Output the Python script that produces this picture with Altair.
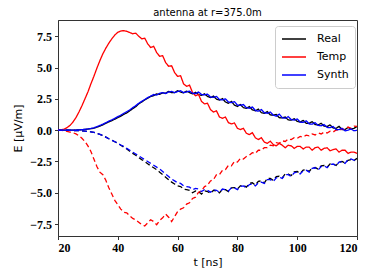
import altair as alt
import pandas as pd

t_ns = list(range(20, 121))

real_pos = [0.0, 0.0, 0.0, 0.0, 0.0, 0.0, 0.01, 0.02, 0.04, 0.06,
            0.09, 0.12, 0.16, 0.24, 0.33, 0.43, 0.55, 0.66, 0.76, 0.88,
            1.0, 1.12, 1.27, 1.38, 1.55, 1.72, 1.88, 2.1, 2.25, 2.42,
            2.55, 2.7, 2.76, 2.9, 2.86, 2.98, 2.95, 3.1, 3.0, 3.0,
            3.15, 3.05, 2.98, 3.12, 3.0, 2.9, 3.02, 2.85, 2.78, 2.9,
            2.7, 2.6, 2.72, 2.48, 2.4, 2.52, 2.25, 2.15, 2.3, 2.0,
            1.9, 2.05, 1.8, 1.75, 1.88, 1.62, 1.55, 1.68, 1.4, 1.35,
            1.48, 1.22, 1.2, 1.25, 1.0, 0.98, 1.05, 0.82, 0.8, 0.92,
            0.7, 0.65, 0.78, 0.55, 0.55, 0.68, 0.45, 0.42, 0.55, 0.32,
            0.3, 0.42, 0.18, 0.15, 0.3, 0.05, 0.05, 0.22, 0.1, 0.15, 0.3]

synth_pos = [0.0, 0.0, 0.0, 0.0, 0.0, 0.0, 0.01, 0.02, 0.04, 0.07,
             0.1, 0.14, 0.19, 0.28, 0.38, 0.48, 0.6, 0.72, 0.83, 0.95,
             1.08, 1.2, 1.35, 1.48, 1.62, 1.8, 1.96, 2.15, 2.3, 2.45,
             2.6, 2.72, 2.85, 2.8, 2.95, 3.0, 2.92, 3.05, 3.1, 3.0,
             3.08, 3.15, 3.0, 3.05, 3.12, 2.95, 2.92, 3.05, 2.85, 2.82,
             2.88, 2.65, 2.62, 2.7, 2.45, 2.42, 2.5, 2.25, 2.2, 2.28,
             2.0, 1.98, 2.05, 1.8, 1.75, 1.85, 1.58, 1.52, 1.65, 1.4,
             1.35, 1.45, 1.2, 1.12, 1.28, 1.0, 0.95, 1.08, 0.85, 0.8,
             0.9, 0.65, 0.62, 0.75, 0.5, 0.48, 0.6, 0.38, 0.35, 0.45,
             0.22, 0.2, 0.3, 0.05, 0.05, 0.15, -0.05, 0.0, 0.1, -0.05, 0.0]

temp_pos = [0.0, 0.02, 0.08, 0.2, 0.38, 0.65, 1.0, 1.45, 1.95, 2.5,
            3.05, 3.7, 4.3, 4.95, 5.55, 6.1, 6.55, 6.95, 7.3, 7.6,
            7.82, 7.92, 7.95, 7.9, 7.8, 7.7, 7.75, 7.5, 7.3, 7.35,
            6.9, 6.6, 6.7, 6.2, 5.9, 5.95, 5.4, 5.1, 5.15, 4.6,
            4.3, 4.35, 3.7, 3.5, 3.6, 3.0, 2.75, 2.85, 2.3, 2.1,
            2.15, 1.65, 1.45, 1.55, 1.05, 0.95, 1.05, 0.6, 0.5, 0.58,
            0.15, 0.05, 0.15, -0.25, -0.35, -0.2, -0.6, -0.75, -0.6, -0.95,
            -1.05, -0.88, -1.15, -1.25, -1.05, -1.2, -1.4, -1.2, -1.25, -1.45,
            -1.3, -1.3, -1.5, -1.35, -1.35, -1.6, -1.4, -1.35, -1.6, -1.45,
            -1.4, -1.65, -1.55, -1.5, -1.75, -1.6, -1.6, -1.85, -1.75, -1.75, -1.85]

temp_neg = [0.0, 0.0, -0.05, -0.1, -0.15, -0.2, -0.3, -0.45, -0.65, -0.9,
            -1.25, -1.7, -2.3, -2.9, -3.35, -3.55, -4.0, -4.6, -5.1, -5.6,
            -5.95, -6.3, -6.55, -6.6, -6.85, -7.05, -7.15, -7.35, -7.55, -7.65,
            -7.4, -7.15, -7.3, -7.55, -7.2, -7.0, -6.7, -6.95, -7.3, -6.9,
            -6.5, -6.3, -6.2, -5.9, -5.8, -5.45, -5.35, -4.95, -4.85, -4.5,
            -4.4, -4.05, -3.95, -3.55, -3.55, -3.2, -3.15, -2.8, -2.85, -2.5,
            -2.55, -2.25, -2.3, -2.1, -2.0, -1.8, -1.85, -1.6, -1.6, -1.4,
            -1.4, -1.2, -1.25, -1.0, -1.05, -0.85, -0.9, -0.7, -0.75, -0.6,
            -0.65, -0.5, -0.55, -0.4, -0.45, -0.3, -0.38, -0.22, -0.3, -0.15,
            -0.22, -0.08, -0.15, 0.02, -0.05, 0.12, 0.05, 0.25, 0.15, 0.32, 0.3]

synth_neg = [0.0, 0.0, 0.0, 0.0, -0.01, -0.02, -0.03, -0.04, -0.06, -0.08,
             -0.1, -0.13, -0.18, -0.25, -0.33, -0.42, -0.55, -0.68, -0.8, -0.92,
             -1.05, -1.18, -1.3, -1.45, -1.6, -1.75, -1.9, -2.05, -2.2, -2.35,
             -2.5, -2.65, -2.8, -2.95, -3.1, -3.3, -3.5, -3.7, -3.9, -4.05,
             -4.2, -4.25, -4.45, -4.5, -4.55, -4.75, -4.65, -4.7, -4.9, -4.75,
             -4.8, -4.95, -4.75, -4.8, -4.95, -4.7, -4.75, -4.85, -4.6, -4.6,
             -4.75, -4.5, -4.45, -4.6, -4.35, -4.3, -4.45, -4.2, -4.15, -4.25,
             -3.95, -3.95, -4.1, -3.8, -3.75, -3.85, -3.55, -3.55, -3.7, -3.4,
             -3.35, -3.5, -3.25, -3.2, -3.35, -3.05, -3.0, -3.18, -2.9, -2.85,
             -3.0, -2.75, -2.7, -2.85, -2.55, -2.5, -2.65, -2.35, -2.3, -2.4, -2.2]

real_neg = [0.0, 0.0, 0.0, 0.0, -0.01, -0.02, -0.03, -0.04, -0.06, -0.08,
            -0.1, -0.13, -0.18, -0.25, -0.33, -0.42, -0.55, -0.68, -0.8, -0.92,
            -1.05, -1.2, -1.35, -1.5, -1.68, -1.85, -2.0, -2.18, -2.35, -2.5,
            -2.68, -2.85, -3.0, -3.15, -3.35, -3.55, -3.75, -3.95, -4.15, -4.3,
            -4.45, -4.5, -4.7, -4.75, -4.8, -5.0, -4.85, -4.9, -5.1, -4.85,
            -4.9, -5.05, -4.8, -4.85, -5.0, -4.72, -4.75, -4.9, -4.6, -4.58,
            -4.7, -4.45, -4.4, -4.55, -4.25, -4.2, -4.38, -4.08, -4.05, -4.2,
            -3.85, -3.85, -4.0, -3.7, -3.68, -3.8, -3.48, -3.5, -3.62, -3.32,
            -3.3, -3.45, -3.18, -3.15, -3.3, -3.02, -2.98, -3.12, -2.85, -2.82,
            -2.95, -2.7, -2.68, -2.82, -2.55, -2.5, -2.62, -2.4, -2.35, -2.42, -2.25]

series_names = ["Real", "Temp", "Synth"]
series_colors = ["black", "red", "blue"]
y_ticks = [-7.5, -5.0, -2.5, 0.0, 2.5, 5.0, 7.5]
x_ticks = [20, 40, 60, 80, 100, 120]

rows = []
for name, comp, vals in [("Real", "pos", real_pos), ("Real", "neg", real_neg),
                         ("Temp", "pos", temp_pos), ("Temp", "neg", temp_neg),
                         ("Synth", "pos", synth_pos), ("Synth", "neg", synth_neg)]:
    for t, v in zip(t_ns, vals):
        rows.append({"t": t, "E": v, "series": name, "comp": comp, "key": name + comp})
df = pd.DataFrame(rows)

SERIF = "Liberation Serif"

chart = alt.Chart(df).mark_line(strokeWidth=1.3).encode(
    x=alt.X("t:Q", scale=alt.Scale(domain=[20, 120], nice=False, zero=False),
            axis=alt.Axis(title="t [ns]", values=x_ticks, format="d", grid=False,
                          labelFont=SERIF, labelFontSize=12, labelFontWeight="bold")),
    y=alt.Y("E:Q", scale=alt.Scale(domain=[-8.45, 8.8], nice=False, zero=False),
            axis=alt.Axis(title="E [μV/m]", values=y_ticks, format=".1f", grid=False,
                          labelFont=SERIF, labelFontSize=12, labelFontWeight="bold")),
    color=alt.Color("series:N", scale=alt.Scale(domain=series_names, range=series_colors),
                    legend=alt.Legend(title=None, orient="none", legendX=217, legendY=6,
                                      symbolType="stroke", symbolSize=576, symbolStrokeWidth=1.5,
                                      labelFont="DejaVu Sans", labelFontSize=11, labelColor="black",
                                      labelOffset=10, clipHeight=14, rowPadding=4,
                                      padding=6, strokeColor="#cccccc", cornerRadius=3,
                                      fillColor="white")),
    strokeDash=alt.StrokeDash("comp:N", scale=alt.Scale(domain=["pos", "neg"], range=[[1, 0], [5, 3]]),
                              legend=None),
    detail="key:N",
    order="t:Q",
).properties(
    width=299, height=216,
    title=alt.Title("antenna at r=375.0m", font="DejaVu Sans", fontSize=10, fontWeight="normal",
                    color="black", offset=2, dy=0),
    autosize=alt.AutoSizeParams(type="none"),
    padding={"left": 50, "top": 12, "right": 9, "bottom": 38},
).configure_view(
    stroke="#333333", strokeWidth=1
).configure_axis(
    domainColor="#333333", tickColor="#333333", tickSize=3.5,
    labelColor="black",
    titleFont="DejaVu Sans", titleFontSize=11, titleFontWeight="normal", titleColor="black",
    labelPadding=3
).configure_axisY(titlePadding=6).configure_axisX(titlePadding=3)

chart.save("out.html", embed_options={"renderer": "svg", "actions": False})
